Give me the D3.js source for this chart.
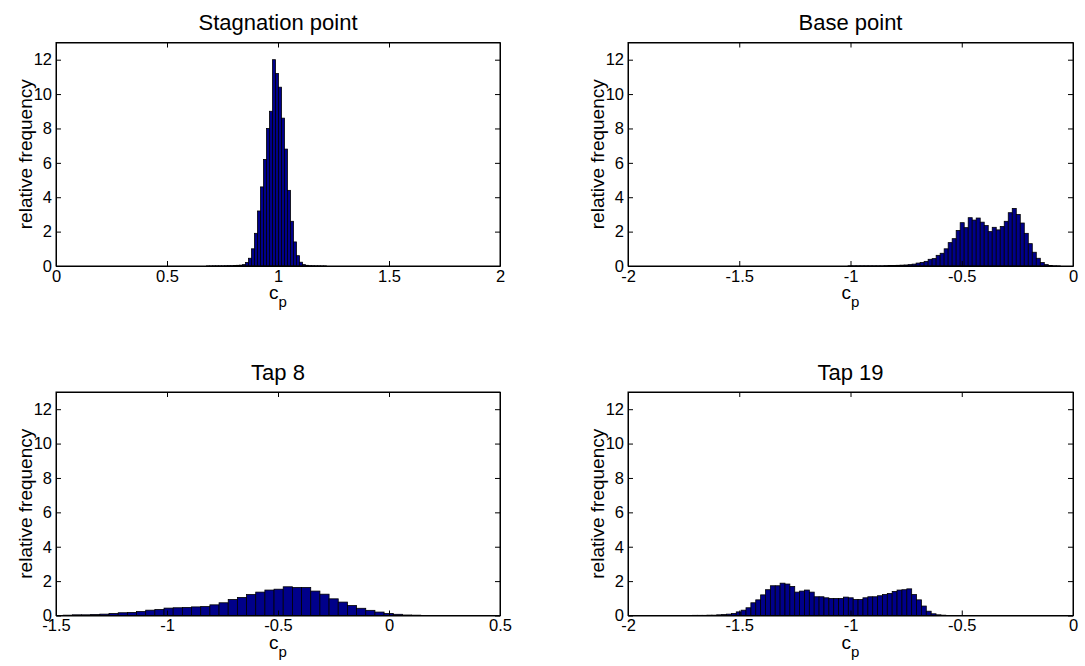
<!DOCTYPE html>
<html>
<head>
<meta charset="utf-8">
<script src="https://cdn.jsdelivr.net/npm/d3@7"></script>
<style>
  body { margin: 0; background: #fff; }
  text { font-family: Arial, "Liberation Sans", sans-serif; fill: #000; }
</style>
</head>
<body>
<div id="chart"></div>
<script>
// histogram data: first bin centre, bin width and bar heights (relative frequency)
const stagStart = 0.685, stagWidth = 0.0135;
const stagValues = [0.005, 0.005, 0.01, 0.01, 0.01, 0.01, 0.015, 0.02, 0.02, 0.03, 0.04,
  0.05, 0.08, 0.2, 0.45, 1.0, 1.9, 3.2, 4.6, 6.2, 8.0, 9.0,
  12.0, 11.2, 10.4, 8.6, 6.8, 4.4, 2.6, 1.4, 0.6, 0.22, 0.08,
  0.04, 0.02, 0.015, 0.01, 0.01, 0.005, 0.005];

const baseStart = -1.002, baseWidth = 0.018;
const baseValues = [0.01, 0.01, 0.01, 0.01, 0.01, 0.01, 0.01, 0.01, 0.01, 0.02,
  0.03, 0.03, 0.04, 0.05, 0.06, 0.08, 0.11, 0.17, 0.21, 0.27,
  0.39, 0.43, 0.62, 0.74, 1.0, 1.36, 1.59, 2.07, 2.52, 2.23,
  2.81, 2.67, 2.79, 2.55, 2.35, 2.0, 2.25, 2.1, 2.3, 2.6,
  3.1, 3.35, 3.0, 2.5, 1.9, 1.3, 0.8, 0.45, 0.2, 0.08,
  0.03, 0.01, 0.005];

const tap8Start = -1.447, tap8Width = 0.0413;
const tap8Values = [0.02, 0.04, 0.04, 0.06, 0.08, 0.12, 0.16, 0.18, 0.23, 0.31,
  0.35, 0.43, 0.45, 0.47, 0.50, 0.52, 0.62, 0.74, 0.93, 1.05,
  1.22, 1.36, 1.48, 1.53, 1.67, 1.63, 1.63, 1.42, 1.24, 0.97,
  0.78, 0.58, 0.42, 0.30, 0.20, 0.12, 0.07, 0.03, 0.02];

const tap19Start = -1.6996, tap19Width = 0.0219;
const tap19Values = [0.01, 0.01, 0.01, 0.02, 0.02, 0.04,
  0.06, 0.08, 0.12, 0.21, 0.31, 0.45, 0.74, 0.91, 1.2, 1.5,
  1.73, 1.73, 1.88, 1.83, 1.69, 1.36, 1.42, 1.48, 1.36, 1.09,
  1.09, 1.03, 0.99, 0.99, 0.99, 1.07, 1.03, 0.93, 0.93, 1.03,
  1.09, 1.09, 1.15, 1.22, 1.28, 1.4, 1.48, 1.5, 1.55, 1.22,
  0.91, 0.55, 0.25, 0.1, 0.04, 0.02];

const titles = ["Stagnation point", "Base point", "Tap 8", "Tap 19"];
const xDomains = [[0, 2], [-2, 0], [-1.5, 0.5], [-2, 0]];
const xTicks = [[0, 0.5, 1, 1.5, 2], [-2, -1.5, -1, -0.5, 0], [-1.5, -1, -0.5, 0, 0.5], [-2, -1.5, -1, -0.5, 0]];
const yTicks = [0, 2, 4, 6, 8, 10, 12];

const width = 1085, height = 666;

const svg = d3.select("#chart")
  .append("svg")
  .attr("width", width)
  .attr("height", height);

// axes boxes (left, right, top, bottom) in pixels
const boxes = [
  {x0: 56, x1: 500, y0: 42.5, y1: 266},
  {x0: 628, x1: 1073, y0: 42.5, y1: 266},
  {x0: 56, x1: 500, y0: 392, y1: 615.5},
  {x0: 628, x1: 1073, y0: 392, y1: 615.5}
];

const hists = [
  {start: stagStart, w: stagWidth, values: stagValues},
  {start: baseStart, w: baseWidth, values: baseValues},
  {start: tap8Start, w: tap8Width, values: tap8Values},
  {start: tap19Start, w: tap19Width, values: tap19Values}
];

hists.forEach((h, p) => {
  const b = boxes[p];
  const xScale = d3.scaleLinear().domain(xDomains[p]).range([b.x0, b.x1]);
  const yScale = d3.scaleLinear().domain([0, 13]).range([b.y1, b.y0]);
  const g = svg.append("g");

  const bins = h.values.map((v, i) => ({c: h.start + i * h.w, v: v}));

  // bars
  g.selectAll("rect.bar")
    .data(bins)
    .enter()
    .append("rect")
    .attr("class", "bar")
    .attr("x", d => xScale(d.c - h.w / 2))
    .attr("width", d => Math.max(0.5, xScale(d.c + h.w / 2) - xScale(d.c - h.w / 2)))
    .attr("y", d => yScale(d.v))
    .attr("height", d => yScale(0) - yScale(d.v))
    .attr("fill", "#00008a")
    .attr("stroke", "#000")
    .attr("stroke-width", 0.8);

  // axes with inward ticks on all four sides
  const fmt = d => String(d);
  g.append("g")
    .attr("transform", "translate(0," + b.y1 + ")")
    .call(d3.axisBottom(xScale).tickValues(xTicks[p]).tickSizeInner(-5).tickSizeOuter(0).tickPadding(4).tickFormat(fmt));
  g.append("g")
    .attr("transform", "translate(0," + b.y0 + ")")
    .call(d3.axisTop(xScale).tickValues(xTicks[p]).tickSizeInner(-5).tickSizeOuter(0).tickFormat(""));
  g.append("g")
    .attr("transform", "translate(" + b.x0 + ",0)")
    .call(d3.axisLeft(yScale).tickValues(yTicks).tickSizeInner(-5).tickSizeOuter(0).tickPadding(4).tickFormat(fmt));
  g.append("g")
    .attr("transform", "translate(" + b.x1 + ",0)")
    .call(d3.axisRight(yScale).tickValues(yTicks).tickSizeInner(-5).tickSizeOuter(0).tickFormat(""));

  g.selectAll(".tick text").style("font-size", "16.5px").style("font-family", "Arial, 'Liberation Sans', sans-serif");
  g.selectAll(".domain").attr("stroke", "#000");
  g.selectAll(".tick line").attr("stroke", "#000");

  g.append("rect")
    .attr("x", b.x0).attr("y", b.y0)
    .attr("width", b.x1 - b.x0).attr("height", b.y1 - b.y0)
    .attr("fill", "none").attr("stroke", "#000").attr("stroke-width", 1);

  // title
  g.append("text")
    .attr("x", (b.x0 + b.x1) / 2)
    .attr("y", b.y0 - 12.5)
    .attr("text-anchor", "middle")
    .style("font-size", "22px")
    .text(titles[p]);

  // x label c_p
  const xl = g.append("text")
    .attr("x", (b.x0 + b.x1) / 2)
    .attr("y", b.y1 + 33)
    .attr("text-anchor", "middle")
    .style("font-size", "19px");
  xl.append("tspan").text("c");
  xl.append("tspan").attr("dy", 8).style("font-size", "15px").text("p");

  // y label
  g.append("text")
    .attr("transform", "translate(" + (b.x0 - 24) + "," + ((b.y0 + b.y1) / 2) + ") rotate(-90)")
    .attr("text-anchor", "middle")
    .style("font-size", "19px")
    .text("relative frequency");
});
</script>
</body>
</html>
